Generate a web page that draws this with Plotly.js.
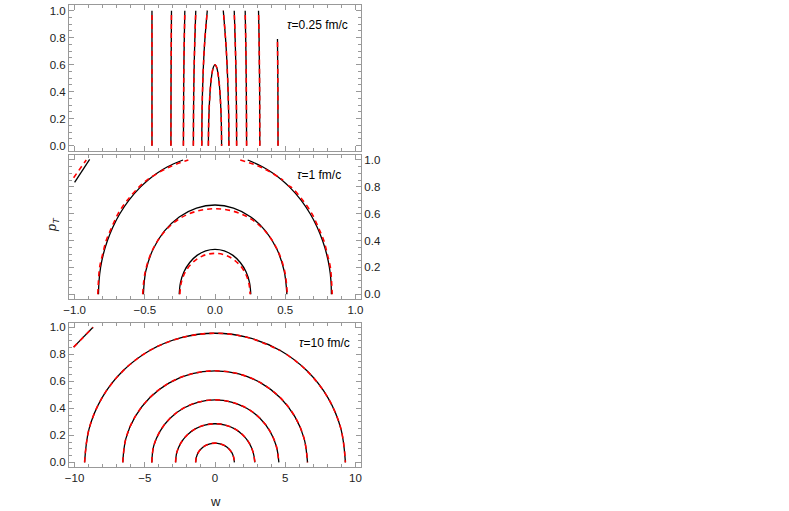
<!DOCTYPE html>
<html><head><meta charset="utf-8">
<script src="https://cdn.plot.ly/plotly-3.0.1.min.js"></script>
<style>body{margin:0;background:#fff}#c{width:789px;height:511px}</style>
</head><body><div id="c"></div>
<script>
// ---------- Panel 1 (tau = 0.25 fm/c) : contour lines, w and pT ----------
const p1_L1_w = [-0.449,-0.449,-0.449];  const p1_L1_p = [0,0.5,1];
const p1_L2_w = [-0.314,-0.313,-0.310];  const p1_L2_p = [0,0.5,1];
const p1_L3_w = [-0.225,-0.224,-0.2225,-0.2194,-0.215]; const p1_L3_p = [0,0.25,0.5,0.75,1];
const p1_L4_w = [-0.154,-0.153,-0.150,-0.1447,-0.137]; const p1_L4_p = [0,0.25,0.5,0.75,1];
const p1_L5_w = [-0.094,-0.0922,-0.086,-0.0746,-0.055]; const p1_L5_p = [0,0.25,0.5,0.75,1];
const p1_dome_w = [-0.047,-0.0443,-0.035,-0.026,-0.0188,-0.012,0,0.012,0.0188,0.026,0.035,0.0443,0.047];
const p1_dome_p = [0,0.2,0.4,0.5,0.55,0.58,0.6,0.58,0.55,0.5,0.4,0.2,0];
const p1_R5_w = [0.099,0.097,0.090,0.078,0.059]; const p1_R5_p = [0,0.25,0.5,0.75,1];
const p1_R4_w = [0.154,0.153,0.150,0.1447,0.137]; const p1_R4_p = [0,0.25,0.5,0.75,1];
const p1_R3_w = [0.225,0.224,0.2225,0.2194,0.215]; const p1_R3_p = [0,0.25,0.5,0.75,1];
const p1_R2_w = [0.319,0.318,0.314,0.310]; const p1_R2_p = [0,0.4,0.8,1];
const p1_R1_w = [0.449,0.448,0.445]; const p1_R1_p = [0,0.4,0.79];

// ---------- Panel 2 (tau = 1 fm/c) ----------
// black (solid) curves
const p2_outer_bk_w = [-0.83,-0.826,-0.815,-0.795,-0.766,-0.728,-0.678,-0.614,-0.530,-0.478,-0.416,-0.338,-0.228,null,0.233,0.338,0.416,0.478,0.530,0.614,0.678,0.728,0.766,0.795,0.815,0.826,0.829];
const p2_outer_bk_p = [0,0.1,0.2,0.3,0.4,0.5,0.6,0.7,0.8,0.85,0.9,0.95,1.0,null,1.0,0.95,0.9,0.85,0.8,0.7,0.6,0.5,0.4,0.3,0.2,0.1,0];
const p2_mid_bk_w = [-0.51,-0.493,-0.442,-0.361,-0.255,-0.132,0,0.132,0.255,0.361,0.442,0.493,0.512];
const p2_mid_bk_p = [0,0.172,0.333,0.470,0.576,0.642,0.665,0.642,0.576,0.470,0.333,0.172,0];
const p2_in_bk_w = [-0.255,-0.246,-0.221,-0.180,-0.128,-0.066,0,0.066,0.128,0.180,0.221,0.246,0.255];
const p2_in_bk_p = [0,0.087,0.168,0.237,0.290,0.324,0.335,0.324,0.290,0.237,0.168,0.087,0];
const p2_corner_bk_w = [-1.0,-0.893]; const p2_corner_bk_p = [0.834,1.005];
// red (dashed) curves
const p2_outer_rd_w = [-0.835,-0.83,-0.822,-0.80,-0.775,-0.735,-0.69,-0.625,-0.54,-0.485,-0.41,-0.32,-0.19,null,0.18,0.32,0.41,0.485,null,0.52,0.54,0.625,0.69,0.735,0.775,0.80,0.822,0.83,0.835];
const p2_outer_rd_p = [0,0.1,0.2,0.3,0.4,0.5,0.6,0.7,0.8,0.85,0.9,0.95,1.0,null,1.0,0.95,0.9,0.85,null,0.81,0.8,0.7,0.6,0.5,0.4,0.3,0.2,0.1,0];
const p2_mid_rd_w = [-0.515,-0.497,-0.446,-0.364,-0.258,-0.133,0,0.133,0.258,0.364,0.446,0.497,0.515];
const p2_mid_rd_p = [0,0.168,0.328,0.462,0.560,0.618,0.637,0.618,0.560,0.462,0.328,0.168,0];
const p2_in_rd_w = [-0.25,-0.242,-0.218,-0.178,-0.126,-0.065,0,0.065,0.126,0.178,0.218,0.242,0.25];
const p2_in_rd_p = [0,0.079,0.153,0.216,0.264,0.295,0.305,0.295,0.264,0.216,0.153,0.079,0];
const p2_corner_rd_w = [-1.007,-0.917]; const p2_corner_rd_p = [0.868,1.0];

// ---------- Panel 3 (tau = 10 fm/c) ----------
const p3_a1_w = [-9.29,-8.97,-8.05,-6.57,-4.65,-2.40,0,2.40,4.65,6.57,8.05,8.97,9.29];
const p3_a1_p = [0,0.248,0.478,0.676,0.828,0.923,0.956,0.923,0.828,0.676,0.478,0.248,0];
const p3_a2_w = [-6.57,-6.35,-5.69,-4.65,-3.29,-1.70,0,1.70,3.29,4.65,5.69,6.35,6.59];
const p3_a2_p = [0,0.176,0.339,0.479,0.587,0.655,0.678,0.655,0.587,0.479,0.339,0.176,0];
const p3_a3_w = [-4.50,-4.37,-3.91,-3.20,-2.26,-1.17,0,1.17,2.26,3.20,3.91,4.37,4.55];
const p3_a3_p = [0,0.120,0.232,0.327,0.401,0.447,0.463,0.447,0.401,0.327,0.232,0.120,0];
const p3_a4_w = [-2.81,-2.72,-2.44,-1.99,-1.41,-0.73,0,0.73,1.41,1.99,2.44,2.72,2.84];
const p3_a4_p = [0,0.074,0.143,0.202,0.248,0.276,0.286,0.276,0.248,0.202,0.143,0.074,0];
const p3_a5_w = [-1.38,-1.33,-1.20,-0.98,-0.69,-0.36,0,0.36,0.69,0.98,1.20,1.33,1.38];
const p3_a5_p = [0,0.037,0.072,0.101,0.124,0.138,0.143,0.138,0.124,0.101,0.072,0.037,0];
const p3_corner_w = [-10.07,-8.69]; const p3_corner_p = [0.853,1.0];
// red dashed copy of the outer arc has a small gap near w = 5
const p3_a1r_w = [-9.29,-8.97,-8.05,-6.57,-4.65,-2.40,0,2.40,4.65,null,5.1,6.57,8.05,8.97,9.29];
const p3_a1r_p = [0,0.248,0.478,0.676,0.828,0.923,0.956,0.923,0.828,null,0.8,0.676,0.478,0.248,0];

const tickVals = [0,0.2,0.4,0.6,0.8,1.0];
const tickText = ['0.0','0.2','0.4','0.6','0.8','1.0'];

const BK = {color:'#000', width:1.3};
const RD = {color:'#ff0000', width:1.6, dash:'5px,4px'};
const traces = [];
function add(w,p,ax,ay,style,spline){
  traces.push({x:w,y:p,xaxis:ax,yaxis:ay,type:'scatter',mode:'lines',
    line:Object.assign({shape: spline?'spline':'linear', smoothing:1}, style),
    connectgaps:false,hoverinfo:'skip',showlegend:false});
}
const p1 = [[p1_L1_w,p1_L1_p],[p1_L2_w,p1_L2_p],[p1_L3_w,p1_L3_p],[p1_L4_w,p1_L4_p],[p1_L5_w,p1_L5_p],
  [p1_dome_w,p1_dome_p],[p1_R5_w,p1_R5_p],[p1_R4_w,p1_R4_p],[p1_R3_w,p1_R3_p],[p1_R2_w,p1_R2_p],[p1_R1_w,p1_R1_p]];
p1.forEach(d=>add(d[0],d[1],'x','y',BK,true));
p1.forEach(d=>add(d[0],d[1],'x','y',RD,true));

add(p2_outer_bk_w,p2_outer_bk_p,'x2','y2',BK,true);
add(p2_mid_bk_w,p2_mid_bk_p,'x2','y2',BK,true);
add(p2_in_bk_w,p2_in_bk_p,'x2','y2',BK,true);
add(p2_corner_bk_w,p2_corner_bk_p,'x2','y2',BK,false);
add(p2_outer_rd_w,p2_outer_rd_p,'x2','y2',RD,true);
add(p2_mid_rd_w,p2_mid_rd_p,'x2','y2',RD,true);
add(p2_in_rd_w,p2_in_rd_p,'x2','y2',RD,true);
add(p2_corner_rd_w,p2_corner_rd_p,'x2','y2',RD,false);

const p3 = [[p3_a1_w,p3_a1_p],[p3_a2_w,p3_a2_p],[p3_a3_w,p3_a3_p],[p3_a4_w,p3_a4_p],[p3_a5_w,p3_a5_p]];
p3.forEach(d=>add(d[0],d[1],'x3','y3',BK,true));
add(p3_corner_w,p3_corner_p,'x3','y3',BK,false);
const p3r = [[p3_a1r_w,p3_a1r_p],[p3_a2_w,p3_a2_p],[p3_a3_w,p3_a3_p],[p3_a4_w,p3_a4_p],[p3_a5_w,p3_a5_p]];
p3r.forEach(d=>add(d[0],d[1],'x3','y3',RD,true));
add(p3_corner_w,p3_corner_p,'x3','y3',RD,false);

const FR = '#999999';
const TF = {family:'Liberation Sans, Arial, sans-serif', size:11.5, color:'#222'};
function ax(extra){
  return Object.assign({showline:true,linecolor:FR,linewidth:1,mirror:'ticks',ticks:'inside',ticklen:5,
    tickcolor:FR,tickwidth:1,showgrid:false,zeroline:false,tickfont:TF,fixedrange:true}, extra);
}
const layout = {
  width:789,height:511,margin:{l:69,r:428,t:5,b:44},
  paper_bgcolor:'#fff',plot_bgcolor:'#fff',showlegend:false,
  xaxis: ax({domain:[0,1],anchor:'y',range:[-1.04,1.04],dtick:0.5,showticklabels:false,
    minor:{dtick:0.1,ticks:'inside',ticklen:3,tickcolor:FR}}),
  yaxis: ax({domain:[0.6846,1],anchor:'x',range:[-0.037,1.042],tickvals:tickVals,ticktext:tickText,
    minor:{dtick:0.05,ticks:'inside',ticklen:3,tickcolor:FR}}),
  xaxis2: ax({domain:[0,1],anchor:'y2',range:[-1.04,1.04],tickvals:[-1,-0.5,0,0.5,1],ticktext:['\u22121.0','\u22120.5','0.0','0.5','1.0'],
    minor:{dtick:0.1,ticks:'inside',ticklen:3,tickcolor:FR}}),
  yaxis2: ax({domain:[0.3636,0.6753],anchor:'x2',side:'right',range:[-0.035,1.037],tickvals:tickVals,ticktext:tickText,
    minor:{dtick:0.05,ticks:'inside',ticklen:3,tickcolor:FR}}),
  xaxis3: ax({domain:[0,1],anchor:'y3',range:[-10.4,10.4],tickvals:[-10,-5,0,5,10],ticktext:['\u221210','\u22125','0','5','10'],
    minor:{dtick:1,ticks:'inside',ticklen:3,tickcolor:FR}}),
  yaxis3: ax({domain:[0,0.311],anchor:'x3',range:[-0.034,1.0295],tickvals:tickVals,ticktext:tickText,
    minor:{dtick:0.05,ticks:'inside',ticklen:3,tickcolor:FR}}),
  annotations:[
    {xref:'paper',yref:'paper',x:0.962,y:0.957,xanchor:'right',yanchor:'middle',showarrow:false,
      text:'<i>τ</i>=0.25 fm/c',font:{family:'Liberation Sans, Arial',size:12,color:'#000'}},
    {xref:'paper',yref:'paper',x:0.938,y:0.632,xanchor:'right',yanchor:'middle',showarrow:false,
      text:'<i>τ</i>=1 fm/c',font:{family:'Liberation Sans, Arial',size:12,color:'#000'}},
    {xref:'paper',yref:'paper',x:0.969,y:0.268,xanchor:'right',yanchor:'middle',showarrow:false,
      text:'<i>τ</i>=10 fm/c',font:{family:'Liberation Sans, Arial',size:12,color:'#000'}},
    {xref:'paper',yref:'paper',x:(52-69)/292,y:(467-225)/462,xanchor:'center',yanchor:'middle',showarrow:false,textangle:-90,
      text:'<i>p</i><sub><i>T</i></sub>',font:{family:'Liberation Sans, Arial',size:13,color:'#222'}},
    {xref:'paper',yref:'paper',x:(215-69)/292,y:(467-501)/462,xanchor:'center',yanchor:'middle',showarrow:false,
      text:'w',font:{family:'Liberation Sans, Arial',size:13,color:'#222'}}
  ]
};
Plotly.newPlot('c',traces,layout,{staticPlot:true,displayModeBar:false});
</script></body></html>
